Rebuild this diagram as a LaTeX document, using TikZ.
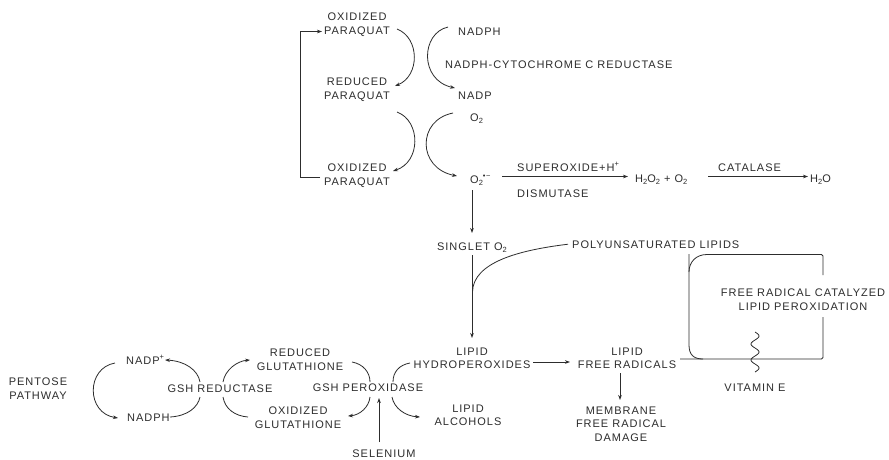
\documentclass[tikz,border=0pt]{standalone}
\usepackage{fontspec}
\setmainfont{Liberation Sans}[LetterSpace=9]
\usetikzlibrary{arrows.meta}
\definecolor{ink}{RGB}{45,45,45}
\newcommand\mysub[1]{\raisebox{-0.35ex}{\fontsize{7.5}{8}\selectfont #1}}
\newcommand\mysup[1]{\raisebox{0.75ex}{\fontsize{7.5}{8}\selectfont #1}}
\tikzset{
  lbl/.style={inner sep=0pt, font=\fontsize{11}{13.2}\selectfont, text=ink},
  ml/.style={lbl, align=center, anchor=north},
  bw/.style={lbl, anchor=base west},
  bc/.style={lbl, anchor=base},
  con/.style={draw=ink, line width=0.8pt},
  arr/.style={con, -{Stealth[length=5pt,width=3.6pt]}},
}
\begin{document}
\begin{tikzpicture}[x=1pt,y=-1pt]
\fill[white] (0,0) rectangle (889,459);
\useasboundingbox (0,0) rectangle (889,459);

% ---------- paraquat cycle ----------
\node[ml] (ox1) at (357,13) {OXIDIZED\\PARAQUAT};
\node[ml] (red) at (357,78) {REDUCED\\PARAQUAT};
\node[ml] (ox2) at (357,164) {OXIDIZED\\PARAQUAT};
\node[bw] (nadph) at (458,35) {NADPH};
\node[bw] (cyt) at (445,68) {NADPH-CYTOCHROME C REDUCTASE};
\node[bw] (nadp) at (458,99) {NADP};
\node[bw] (o2) at (470,121) {O\mysub{2}};
\node[bw] (o2m) at (470,183) {O\mysub{2}\mysup{•−}};

\coordinate (a1s) at (397,29);  \coordinate (a1e) at (395,86);
\coordinate (a2s) at (448,27);  \coordinate (a2e) at (455,88);
\coordinate (a3s) at (397,112); \coordinate (a3e) at (393,171);
\coordinate (a4s) at (453,113); \coordinate (a4e) at (457,176);
\draw[arr] (a1s) .. controls (420,38) and (420,76) .. (a1e);
\draw[arr] (a2s) .. controls (421,33) and (419,80) .. (a2e);
\draw[arr] (a3s) .. controls (421,121) and (421,162) .. (a3e);
\draw[arr] (a4s) .. controls (417,120) and (417,168) .. (a4e);

\coordinate (bb) at (320,177);
\coordinate (bt) at (322,31.5);
\draw[arr] (bb) -- ++(-19.5,0) |- (bt);

% ---------- superoxide / catalase ----------
\node[bw] (sup) at (517,171) {SUPEROXIDE+H\mysup{+}};
\node[bw] (dis) at (517,197) {DISMUTASE};
\node[bw] (h2o2) at (635,182) {H\mysub{2}O\mysub{2} + O\mysub{2}};
\node[bw] (cat) at (718,171) {CATALASE};
\node[bw] (h2o) at (810,182) {H\mysub{2}O};
\coordinate (s1) at (502,176.5); \coordinate (s2) at (628,176.5);
\coordinate (c1) at (708,176.5); \coordinate (c2) at (808,176.5);
\draw[arr] (s1) -- (s2);
\draw[arr] (c1) -- (c2);

% ---------- singlet oxygen / lipids ----------
\node[bc] (singlet) at (472,250) {SINGLET O\mysub{2}};
\node[bw] (poly) at (572,248) {POLYUNSATURATED LIPIDS};
\node[ml] (hydro) at (472,348) {LIPID\\HYDROPEROXIDES};
\node[ml] (lfr) at (627,348) {LIPID\\FREE RADICALS};
\node[ml] (mem) at (621,407) {MEMBRANE\\FREE RADICAL\\DAMAGE};
\node[ml] (frc) at (803,289) {FREE RADICAL CATALYZED\\LIPID PEROXIDATION};
\node[bc] (vit) at (755,391) {VITAMIN E};

\coordinate (o2d) at (472,190);
\coordinate (sgt) at (472,233);
\coordinate (sgb) at (472,255);
\coordinate (hyt) at (472,338);
\coordinate (join) at (472.5,292);
\draw[arr] (o2d) -- (sgt);
\draw[arr] (sgb) -- (hyt);
\draw[con] ([xshift=-4pt]poly.west) .. controls (520,250) and (473,262) .. (join);

\coordinate (h1) at (533,362); \coordinate (h2) at (570,362);
\draw[arr] (h1) -- (h2);
\coordinate (m1) at (620,373); \coordinate (m2) at (620,400);
\draw[arr] (m1) -- (m2);

% peroxidation cycle box
\draw[con, rounded corners=1.5pt] (680,359) -- (823,359) -- (823,317);
\draw[con, rounded corners=1.5pt] (823,275) -- (823,254.5) -- (707,254.5);
\draw[con] (707,254.5) .. controls (696,254.5) and (689,262) .. (689,272);
\draw[con] (689,254) -- (689,345) .. controls (689,355) and (694,359) .. (703,359);
\draw[con] plot[domain=0:40, samples=80, smooth] ({755+4*sin(\x*22.5)}, {332+\x});

% ---------- glutathione cycle ----------
\node[bc] (gshp) at (368,391) {GSH PEROXIDASE};
\node[bc] (sel) at (384,457) {SELENIUM};
\node[ml] (alc) at (468,405) {LIPID\\ALCOHOLS};
\node[ml] (redg) at (300,349) {REDUCED\\GLUTATHIONE};
\node[ml] (oxg) at (298,407) {OXIDIZED\\GLUTATHIONE};
\node[bc] (gshr) at (220,392) {GSH REDUCTASE};
\node[bw] (nadpp) at (126,364) {NADP\mysup{+}};
\node[bw] (nadph2) at (127,421) {NADPH};
\node[ml] (pent) at (38,378) {PENTOSE\\PATHWAY};

\coordinate (se1) at (379,442); \coordinate (se2) at (379,398);
\draw[arr] (se1) -- (se2);

% GSH peroxidase arcs
\draw[con] (352,362) .. controls (363,364) and (370,372) .. (370,382);
\draw[arr] (370,397) .. controls (369,407) and (360,415) .. (348,416);
\draw[con] (410,363) .. controls (399,365) and (393,372) .. (393,382);
\draw[arr] (392,397) .. controls (394,408) and (405,416) .. (420,417);

% GSH reductase arcs
\draw[con] (170,417) .. controls (188,416) and (198,407) .. (200,397);
\draw[arr] (200,382) .. controls (198,370) and (185,361) .. (165,360);
\draw[arr] (223,382) .. controls (225,370) and (237,361) .. (250,360);
\draw[con] (223,397) .. controls (225,409) and (235,416) .. (248,417);

% pentose arc
\draw[arr] (115,363) .. controls (86,368) and (86,413) .. (118,418);
\end{tikzpicture}
\end{document}
